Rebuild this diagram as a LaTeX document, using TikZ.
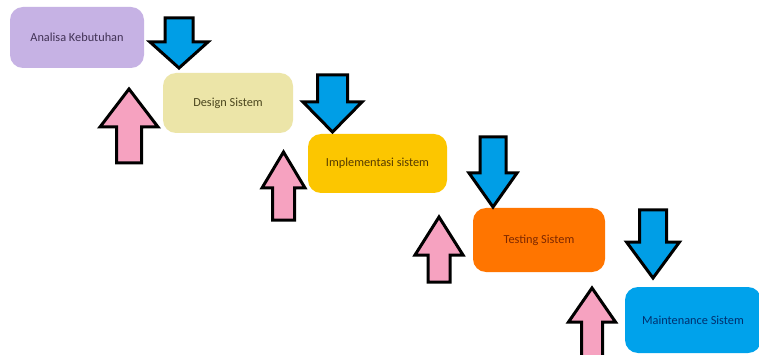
\documentclass[tikz,border=0pt]{standalone}
\usepackage{fontspec}
\setmainfont{Carlito}
\definecolor{cA}{RGB}{198,178,228}
\definecolor{cB}{RGB}{236,229,168}
\definecolor{cC}{RGB}{252,198,0}
\definecolor{cD}{RGB}{255,117,0}
\definecolor{cE}{RGB}{0,162,235}
\definecolor{tA}{RGB}{65,50,85}
\definecolor{tB}{RGB}{75,70,30}
\definecolor{tC}{RGB}{85,58,0}
\definecolor{tD}{RGB}{125,40,0}
\definecolor{tE}{RGB}{0,48,110}
\definecolor{arrBlue}{RGB}{0,158,230}
\definecolor{arrPink}{RGB}{246,162,192}
\newcommand{\blkdown}[7]{% cx, shaft half, top, head base, head half, tip, colour
  \draw[blockarrow, fill=#7] (#1-#2,#3) -- (#1+#2,#3) -- (#1+#2,#4) -- (#1+#5,#4)
    -- (#1,#6) -- (#1-#5,#4) -- (#1-#2,#4) -- cycle;}
\newcommand{\blkup}[7]{% cx, shaft half, bottom, head base, head half, tip, colour
  \draw[blockarrow, fill=#7] (#1-#2,#3) -- (#1+#2,#3) -- (#1+#2,#4) -- (#1+#5,#4)
    -- (#1,#6) -- (#1-#5,#4) -- (#1-#2,#4) -- cycle;}
\begin{document}
\begin{tikzpicture}[x=1pt,y=-1pt,
  box/.style={rounded corners=13pt, inner sep=0pt, font=\fontsize{12.3}{14}\selectfont},
  blockarrow/.style={draw=black, line width=3pt, line join=miter}]
\useasboundingbox (0,0) rectangle (759,355);
\fill[white] (0,0) rectangle (759,355);
\begin{scope}
\clip (0,0) rectangle (759,355);
% boxes
\node[box, fill=cA, text=tA, minimum width=134pt, minimum height=61pt] (analisa) at (77,37.5) {Analisa Kebutuhan};
\node[box, fill=cB, text=tB, minimum width=130pt, minimum height=60pt] (design) at (228,103) {Design Sistem};
\node[box, fill=cC, text=tC, minimum width=139pt, minimum height=59pt] (impl) at (377.5,163.5) {Implementasi sistem};
\node[box, fill=cD, text=tD, minimum width=132pt, minimum height=64pt] (testing) at (539,240) {Testing Sistem};
\node[box, fill=cE, text=tE, minimum width=136pt, minimum height=66pt] (maint) at (693,320) {Maintenance Sistem};
% blue down arrows
\blkdown{179}{14}{18}{42}{29}{68}{arrBlue}
\blkdown{332.5}{15}{75}{102}{29.5}{132}{arrBlue}
\blkdown{493}{13}{137}{173}{24}{207}{arrBlue}
\blkdown{653}{13.5}{210}{242}{26.5}{278}{arrBlue}
% pink up arrows
\blkup{129}{12.5}{163}{127}{29}{89}{arrPink}
\blkup{283.5}{11}{220}{188}{21.5}{152}{arrPink}
\blkup{439}{11}{282}{255}{24}{217}{arrPink}
\blkup{592}{10.5}{362}{322}{23.5}{288}{arrPink}
\end{scope}
\end{tikzpicture}
\end{document}
